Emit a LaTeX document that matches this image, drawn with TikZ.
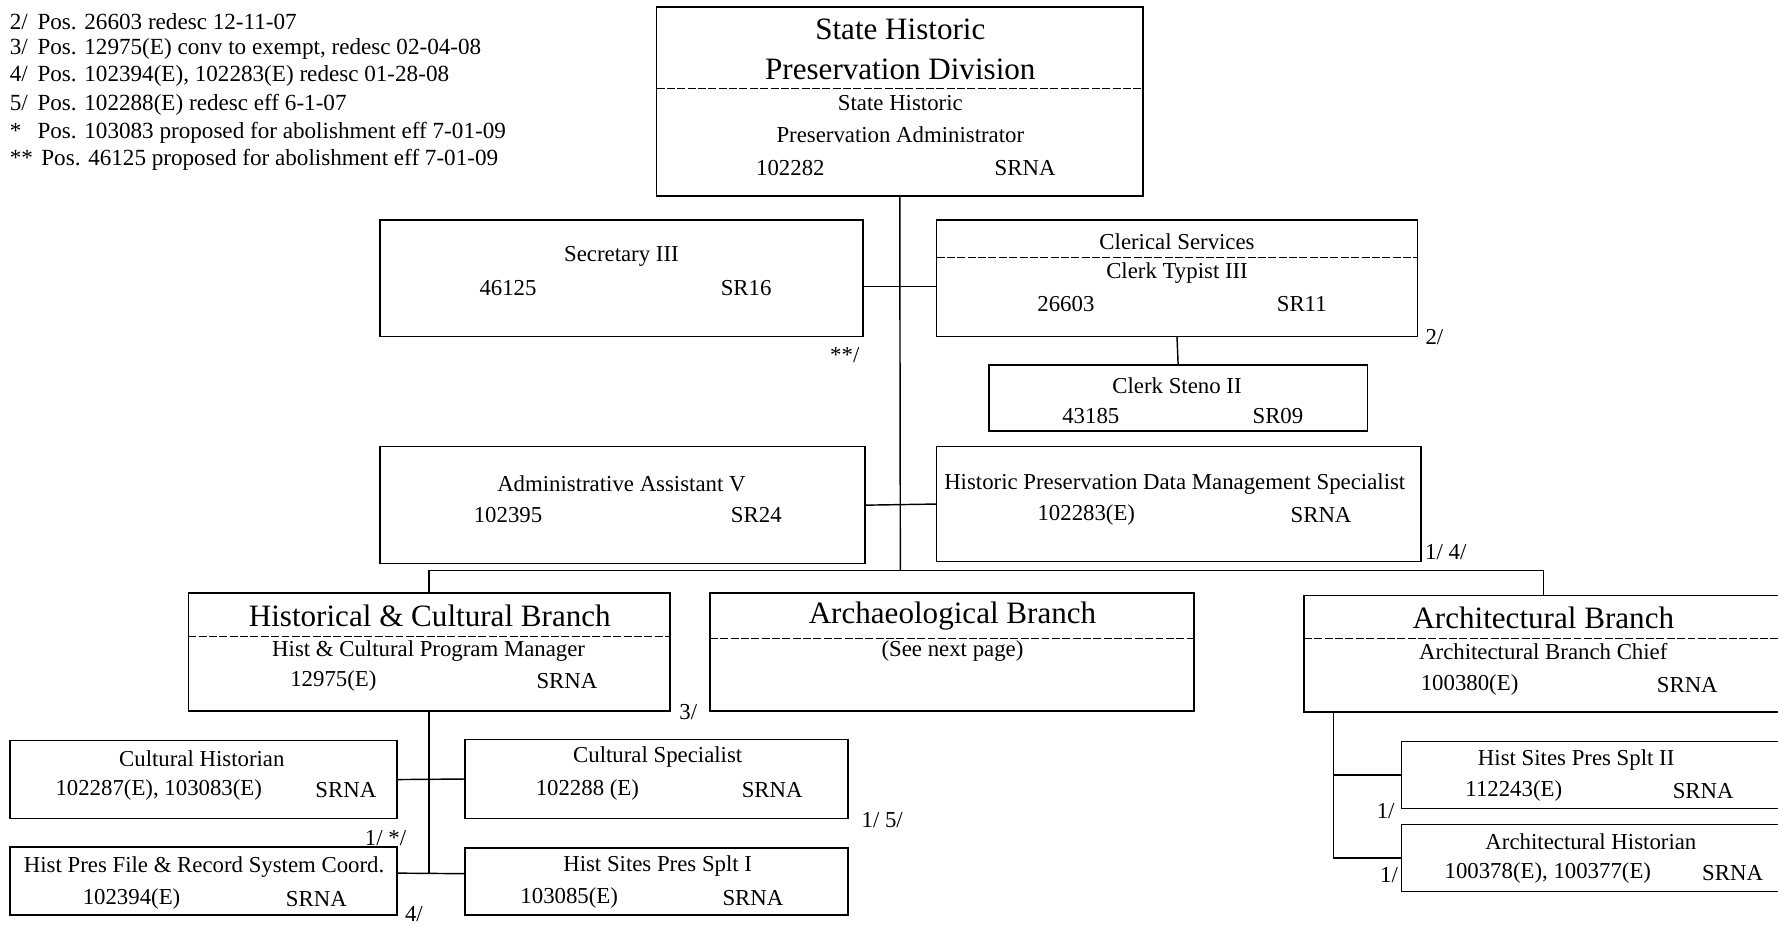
\documentclass[tikz,border=0pt]{standalone}
\usepackage{fontspec}
\setmainfont{Liberation Serif}
\usetikzlibrary{calc}

\begin{document}
\begin{tikzpicture}[x=0.025cm,y=-0.025cm,line width=0.9pt,
  box/.style={draw,inner sep=0pt,outer sep=0pt},
  wh/.style 2 args={minimum width=#1*0.025cm,minimum height=#2*0.025cm},
  txt/.style={font=\fontsize{14.3}{16}\selectfont,inner sep=0pt},
  ttl/.style={font=\fontsize{19.5}{22}\selectfont,inner sep=0pt},
  note/.style={font=\fontsize{14.5}{16}\selectfont,inner sep=0pt,anchor=west},
  sep/.style={dash pattern=on 5pt off 1.5pt,line width=0.5pt}]
  \clip (0,0) rectangle (1568,816);
  % footnotes
  \node[note] (n2) at (8,19) {\makebox[1.2em][l]{2/}Pos. 26603 redesc 12-11-07};
  \node[note] (n3) at (8,43) {\makebox[1.2em][l]{3/}Pos. 12975(E) conv to exempt, redesc 02-04-08};
  \node[note] (n4) at (8,67) {\makebox[1.2em][l]{4/}Pos. 102394(E), 102283(E) redesc 01-28-08};
  \node[note] (n5) at (8,92) {\makebox[1.2em][l]{5/}Pos. 102288(E) redesc eff 6-1-07};
  \node[note] (n6) at (8,117) {\makebox[1.2em][l]{*}Pos. 103083 proposed for abolishment eff 7-01-09};
  \node[note] (n7) at (8,141) {\makebox[1.2em][l]{**}\,Pos. 46125 proposed for abolishment eff 7-01-09};

  % division
  \node[box,wh={429}{167}] (div) at (793.5,89.5) {};
  \draw[sep] (579,78) -- (1008,78);
  \node[ttl] (div-a) at (794,26) {State Historic};
  \node[ttl] (div-b) at (794,61) {Preservation Division};
  \node[txt] (div-c) at (794,91) {State Historic};
  \node[txt] (div-d) at (794,119) {Preservation Administrator};
  \node[txt] (div-n) at (697,148) {102282};
  \node[txt] (div-g) at (904,148) {SRNA};

  % staff
  \node[box,wh={426}{103}] (sec) at (548,245.5) {};
  \node[txt] (sec-t) at (548,226) {Secretary III};
  \node[txt] (sec-n) at (448,254) {46125};
  \node[txt] (sec-g) at (658,254) {SR16};
  \node[txt] (sec-f) at (745,313) {**/};

  \node[box,wh={424}{103}] (cler) at (1038,245.5) {};
  \draw[sep] (826,227) -- (1250,227);
  \node[txt] (cler-a) at (1038,213) {Clerical Services};
  \node[txt] (cler-t) at (1038,241) {Clerk Typist III};
  \node[txt] (cler-n) at (940,268) {26603};
  \node[txt] (cler-g) at (1148,268) {SR11};
  \node[txt] (cler-f) at (1265,297) {2/};

  \node[box,wh={334}{58}] (steno) at (1039,351) {};
  \node[txt] (steno-t) at (1038,340) {Clerk Steno II};
  \node[txt] (steno-n) at (962,367) {43185};
  \node[txt] (steno-g) at (1127,367) {SR09};

  \node[box,wh={428}{103}] (adm) at (549,445.5) {};
  \node[txt] (adm-t) at (548,427) {Administrative Assistant V};
  \node[txt] (adm-n) at (448,454) {102395};
  \node[txt] (adm-g) at (667,454) {SR24};

  \node[box,wh={427}{101}] (data) at (1039.5,444.5) {};
  \node[txt] (data-t) at (1036,427) {Historic Preservation Data Management Specialist};
  \node[txt] (data-n) at (958,454) {102283(E)};
  \node[txt] (data-g) at (1165,454) {SRNA};
  \node[txt] (data-f) at (1275,487) {1/ 4/};

  % branches
  \node[box,wh={425}{104}] (hcb) at (378.5,575) {};
  \draw[sep] (166,561) -- (591,561);
  \node[ttl] (hcb-a) at (379,543) {Historical \& Cultural Branch};
  \node[txt] (hcb-t) at (378,574) {Hist \& Cultural Program Manager};
  \node[txt] (hcb-n) at (294,601) {12975(E)};
  \node[txt] (hcb-g) at (500,601) {SRNA};
  \node[txt] (hcb-f) at (607,628) {3/};

  \node[box,wh={427}{104}] (arc) at (839.5,575) {};
  \draw[sep] (626,563) -- (1053,563);
  \node[ttl] (arc-a) at (840,543) {Archaeological Branch};
  \node[txt] (arc-t) at (840,574) {(See next page)};

  \node[box,wh={422}{103}] (arb) at (1361,576.5) {};
  \draw[sep] (1150,563) -- (1568,563);
  \node[ttl] (arb-a) at (1361,545) {Architectural Branch};
  \node[txt] (arb-t) at (1361,575) {Architectural Branch Chief};
  \node[txt] (arb-n) at (1296,604) {100380(E)};
  \node[txt] (arb-g) at (1488,604) {SRNA};

  % historical & cultural staff
  \node[box,wh={341}{69}] (ch) at (179.5,687.5) {};
  \node[txt] (ch-t) at (178,669) {Cultural Historian};
  \node[txt] (ch-n) at (140,697) {102287(E), 103083(E)};
  \node[txt] (ch-g) at (305,697) {SRNA};
  \node[txt] (ch-f) at (340,739) {1/ */};

  \node[box,wh={338}{70}] (cs) at (579,687) {};
  \node[txt] (cs-t) at (580,668) {Cultural Specialist};
  \node[txt] (cs-n) at (518,697) {102288 (E)};
  \node[txt] (cs-g) at (681,697) {SRNA};
  \node[txt] (cs-f) at (778,723) {1/ 5/};

  \node[box,wh={341}{60}] (hpf) at (179.5,777) {};
  \node[txt] (hpf-t) at (180,765) {Hist Pres File \& Record System Coord.};
  \node[txt] (hpf-n) at (116,793) {102394(E)};
  \node[txt] (hpf-g) at (279,793) {SRNA};
  \node[txt] (hpf-f) at (365,806) {4/};

  \node[box,wh={338}{59}] (hs1) at (579,777.5) {};
  \node[txt] (hs1-t) at (580,764) {Hist Sites Pres Splt I};
  \node[txt] (hs1-n) at (502,792) {103085(E)};
  \node[txt] (hs1-g) at (664,792) {SRNA};

  % architectural staff
  \node[box,wh={344}{59}] (hs2) at (1408,683.5) {};
  \node[txt] (hs2-t) at (1390,670) {Hist Sites Pres Splt II};
  \node[txt] (hs2-n) at (1335,698) {112243(E)};
  \node[txt] (hs2-g) at (1502,698) {SRNA};
  \node[txt] (hs2-f) at (1222,715) {1/};

  \node[box,wh={344}{59}] (ah) at (1408,756.5) {};
  \node[txt] (ah-t) at (1403,742) {Architectural Historian};
  \node[txt] (ah-n) at (1365,770) {100378(E), 100377(E)};
  \node[txt] (ah-g) at (1528,770) {SRNA};
  \node[txt] (ah-f) at (1225,772) {1/};

  % lines
  \coordinate (bus) at (794,503);
  \coordinate (archdrop) at (1176,628);
  \draw (div.south) -- (bus);
  \draw (hcb.north) |- (bus) -| (arb.north);
  \draw ([yshift=-0.175cm]sec.east) -- ([yshift=-0.175cm]cler.west);
  \draw (cler.south) -- (steno.north);
  \draw (adm.east) -- (data.west);
  \draw (hcb.south) -- ([yshift=0.175cm]hcb.south |- hpf.east);
  \draw (ch.east) -- (cs.west);
  \draw ([yshift=0.175cm]hpf.east) -- ([yshift=0.175cm]hs1.west);
  \draw (archdrop) |- (hs2.west);
  \draw (archdrop) |- (ah.west);
\end{tikzpicture}
\end{document}
